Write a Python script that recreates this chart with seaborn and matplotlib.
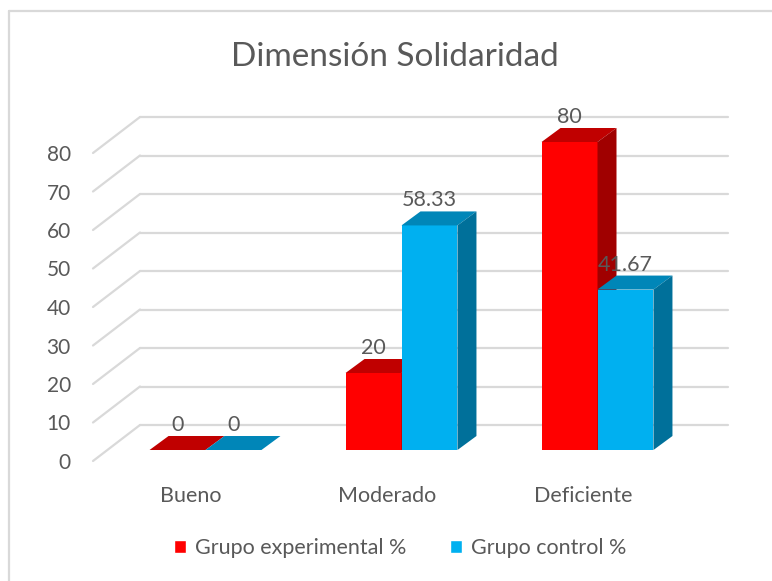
import matplotlib
matplotlib.use('Agg')
import matplotlib.pyplot as plt
import matplotlib.transforms as mtransforms
from matplotlib.patches import Polygon, Patch
from matplotlib.lines import Line2D
import numpy as np
import pandas as pd
import seaborn as sns

# data
categories = ['Bueno', 'Moderado', 'Deficiente']
grupo_experimental = [0, 20, 80]
grupo_control = [0, 58.33, 41.67]
series_names = ['Grupo experimental %', 'Grupo control %']
y_ticks = [0, 10, 20, 30, 40, 50, 60, 70, 80]

# colours (front / top / side faces)
front_colors = ['#FF0000', '#00B0F0']
top_colors = ['#C00000', '#0086B8']
side_colors = ['#A00000', '#00709A']
grid_color = '#D9D9D9'
text_color = '#595959'

df = pd.DataFrame({
    'categoria': categories * 2,
    'valor': grupo_experimental + grupo_control,
    'grupo': [series_names[0]] * len(categories) + [series_names[1]] * len(categories),
})

sns.set_style('white')
plt.rcParams['font.family'] = ['Lato', 'DejaVu Sans']

W, H = 772, 581
fig = plt.figure(figsize=(W / 100, H / 100), dpi=100)
# axes = front edge of the 3D floor
ax = fig.add_axes([93 / W, 120 / H, 588 / W, 308 / H])
sns.barplot(data=df, x='categoria', y='valor', hue='grupo', palette=front_colors,
            width=0.571, saturation=1, errorbar=None, legend=False, ax=ax)
ax.set_xlim(-0.5, len(categories) - 0.5)
ax.set_ylim(0, 80)


def shift(dx, dy):
    # offset in pixels (dpi 100)
    return ax.transData + mtransforms.ScaledTranslation(dx / 100, dy / 100, fig.dpi_scale_trans)


def px_to_data(dx, dy):
    o = ax.transData.transform((0, 0))
    return ax.transData.inverted().transform(o + np.array([dx, dy]))


bar_plane = shift(14.5, 11)
back_wall = shift(47, 36)

# gridlines on back wall + diagonals on left side wall
wall_dx, wall_dy = px_to_data(47, 36)
for v in y_ticks:
    ax.plot([-0.5, len(categories) - 0.5], [v, v], color=grid_color, lw=1.6,
            transform=back_wall, clip_on=False, zorder=1)
    ax.plot([-0.5, -0.5 + wall_dx], [v, v + wall_dy], color=grid_color, lw=1.6,
            clip_on=False, zorder=1)

# 3D bars, drawn left to right so neighbours hide side faces
ddx, ddy = px_to_data(19, 14)
bars = sorted(ax.patches, key=lambda p: p.get_x())
z = 3
for p in bars:
    fc = p.get_facecolor()
    idx = 0 if fc[2] < 0.5 else 1
    x0 = p.get_x()
    x1 = x0 + p.get_width()
    h = p.get_height()
    p.set_transform(bar_plane)
    p.set_clip_on(False)
    p.set_edgecolor('none')
    p.set_zorder(z)
    top = Polygon([(x0, h), (x1, h), (x1 + ddx, h + ddy), (x0 + ddx, h + ddy)],
                  closed=True, facecolor=top_colors[idx], edgecolor='none',
                  transform=bar_plane, clip_on=False, zorder=z + 1)
    side = Polygon([(x1, 0), (x1 + ddx, ddy), (x1 + ddx, h + ddy), (x1, h)],
                   closed=True, facecolor=side_colors[idx], edgecolor='none',
                   transform=bar_plane, clip_on=False, zorder=z + 1)
    ax.add_patch(top)
    ax.add_patch(side)
    ax.text((x0 + x1) / 2, h, '{:g}'.format(h), ha='center', va='center',
            fontsize=15.5, color=text_color, transform=shift(14.5, 11 + 25),
            zorder=30)
    z += 3

# axes styling
for s in ax.spines.values():
    s.set_visible(False)
ax.set_yticks(y_ticks)
ax.tick_params(axis='both', length=0, labelsize=15, labelcolor=text_color)
ax.tick_params(axis='x', labelsize=15.5, pad=18)
ax.tick_params(axis='y', pad=16)
ax.set_xlabel('')
ax.set_ylabel('')
ax.grid(False)

fig.text(395 / W, 1 - 57 / H, 'Dimensión Solidaridad', ha='center', va='center',
         fontsize=24, color=text_color)

handles = [Patch(facecolor=front_colors[0]), Patch(facecolor=front_colors[1])]
fig.legend(handles, series_names, loc='center', bbox_to_anchor=(400 / W, 1 - 548 / H),
           ncol=2, frameon=False, handlelength=0.6, handleheight=0.6,
           handletextpad=0.4, columnspacing=2.0, fontsize=15.5, labelcolor=text_color)

# chart border
fig.add_artist(Line2D([9 / W, 9 / W], [0, 1 - 11 / H], transform=fig.transFigure,
                      color=grid_color, lw=1.6))
fig.add_artist(Line2D([9 / W, 1], [1 - 11 / H, 1 - 11 / H], transform=fig.transFigure,
                      color=grid_color, lw=1.6))

fig.savefig('out.png', dpi=100)
